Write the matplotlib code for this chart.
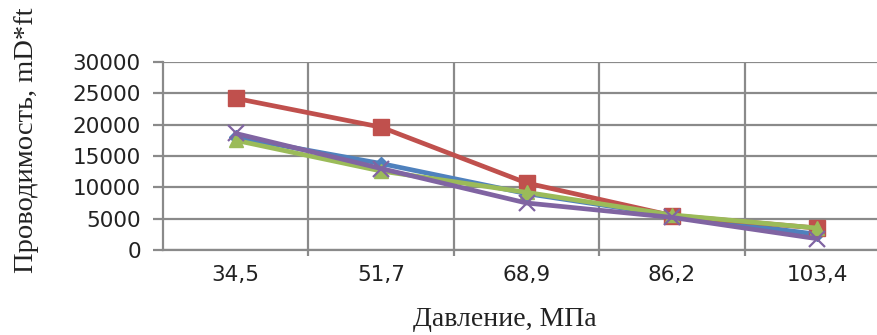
import matplotlib
matplotlib.use("Agg")
import matplotlib.pyplot as plt
from matplotlib.ticker import FixedLocator

# Pressure categories (MPa) and conductivity series (mD*ft)
pressure_labels = ["34,5", "51,7", "68,9", "86,2", "103,4"]
series_blue = [18000, 13800, 9000, 5500, 2500]
series_red = [24200, 19600, 10700, 5500, 3500]
series_green = [17500, 12600, 9200, 5600, 3500]
series_purple = [18600, 13000, 7500, 5200, 1800]
y_ticks = [0, 5000, 10000, 15000, 20000, 25000, 30000]

W, H = 877, 335
fig = plt.figure(figsize=(W / 100, H / 100), dpi=100)
ax = fig.add_axes([163 / W, (H - 250) / H, 727 / W, 188 / H])

x = list(range(len(pressure_labels)))
grid_c = "#8a8a8a"

styles = [
    (series_blue, "#4F81BD", "D", 7),
    (series_red, "#C0504D", "s", 11),
    (series_green, "#9BBB59", "^", 10),
    (series_purple, "#8064A2", "x", 11),
]
for vals, col, mk, ms in styles:
    ax.plot(x, vals, color=col, lw=3.4, marker=mk, ms=ms,
            mew=1.6 if mk == "x" else 1, mfc=col, mec=col, zorder=3,
            clip_on=False)

ax.set_xlim(-0.5, len(x) - 0.5)
ax.set_ylim(0, 30000)
ax.set_yticks(y_ticks)
ax.set_xticks(x)
ax.set_xticklabels(pressure_labels)
ax.xaxis.set_minor_locator(FixedLocator([i + 0.5 for i in range(len(x))]))

ax.grid(axis="y", color=grid_c, lw=1.6)
ax.grid(axis="x", which="minor", color=grid_c, lw=1.6)
ax.set_axisbelow(True)

for s in ["top", "right"]:
    ax.spines[s].set_visible(False)
for s in ["left", "bottom"]:
    ax.spines[s].set_color(grid_c)
    ax.spines[s].set_linewidth(1.6)

ax.tick_params(axis="y", length=7, width=1.6, color=grid_c, pad=9,
               labelsize=15.5, labelcolor="#222222")
ax.tick_params(axis="x", which="major", length=0, pad=11,
               labelsize=15.5, labelcolor="#222222")
ax.tick_params(axis="x", which="minor", length=4, width=1.6, color=grid_c)

fig.text(27 / W, 1 - 140 / H, "Проводимость, mD*ft", rotation=90,
         ha="center", va="center", fontsize=20.5,
         family="Liberation Serif", color="#222222")
fig.text(505 / W, 1 - 320 / H, "Давление, МПа", ha="center", va="center",
         fontsize=20, family="Liberation Serif", color="#222222")

fig.savefig("out.png", dpi=100)
